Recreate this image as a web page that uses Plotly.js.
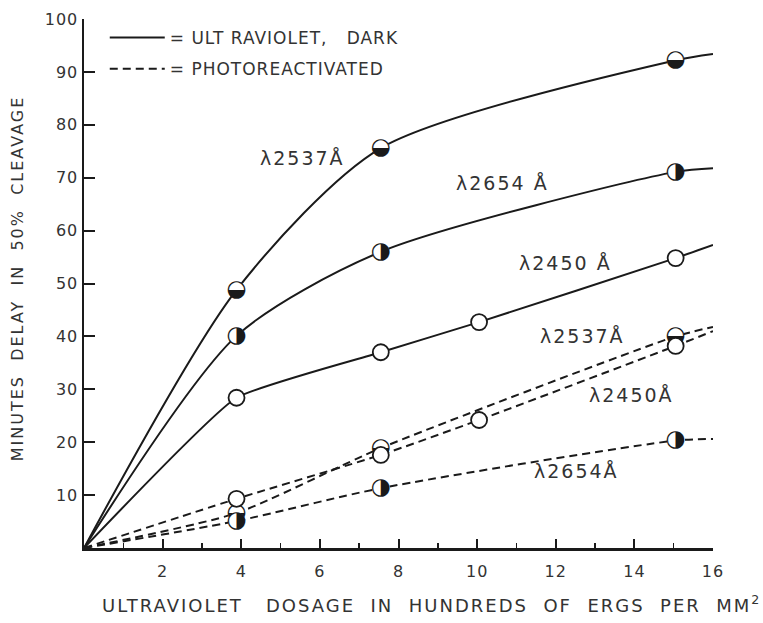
<!DOCTYPE html>
<html><head><meta charset="utf-8">
<script src="https://cdn.plot.ly/plotly-3.0.1.min.js"></script>
<style>
body{margin:0;background:#fff}
#chart{width:763px;height:623px}
.annotation-text{letter-spacing:2px}
.legendtext{letter-spacing:1px}
.ytick text,.xtick text{letter-spacing:1px}
</style></head><body><div id="chart"></div>
<script>
const FONT = 'DejaVu Sans, sans-serif';
const INK = '#1a1a1a';

// Ultraviolet, dark (solid curves): dose (hundreds of ergs/mm^2) vs delay (min)
const darkDose2537 = [0, 3.88, 7.55, 15.05, 16];
const dark2537     = [0, 48.8, 75.6, 92.2, 93.4];
const darkDose2654 = [0, 3.88, 7.55, 15.05, 16];
const dark2654     = [0, 40.1, 56.0, 71.1, 71.8];
const darkDose2450 = [0, 3.88, 7.55, 10.05, 15.05, 16];
const dark2450     = [0, 28.4, 37.0, 42.7, 54.8, 57.3];

// Photoreactivated (dashed curves)
const photoDose2537 = [0, 3.88, 7.55, 15.05, 16];
const photo2537     = [0, 6.6, 18.9, 40.0, 41.8];
const photoDose2450 = [0, 3.88, 7.55, 10.05, 15.05, 16];
const photo2450     = [0, 9.3, 17.6, 24.2, 38.2, 41.0];
const photoDose2654 = [0, 3.88, 7.55, 15.05, 16];
const photo2654     = [0, 5.1, 11.3, 20.3, 20.6];

const xTicks = [2, 4, 6, 8, 10, 12, 14, 16];
const yTicks = [10, 20, 30, 40, 50, 60, 70, 80, 90, 100];

const curveLabels = ['\u03bb2537\u00c5', '\u03bb2654 \u00c5', '\u03bb2450 \u00c5', '\u03bb2537\u00c5', '\u03bb2450\u00c5', '\u03bb2654\u00c5'];
const labelX = [5.55, 10.64, 12.24, 12.67, 13.92, 12.52];
const labelY = [73.7, 69.0, 53.9, 40.1, 28.9, 14.6];

const legendNames = ['= ULT RAVIOLET,\u00a0\u00a0 DARK', '= PHOTOREACTIVATED'];

const series = [
  {x: darkDose2537, y: dark2537, dash: 'solid', kind: 'lower', group: 'dark', legend: true, smooth: 0.75},
  {x: darkDose2654, y: dark2654, dash: 'solid', kind: 'right', group: 'dark', smooth: 0.75},
  {x: darkDose2450, y: dark2450, dash: 'solid', kind: 'open', group: 'dark', smooth: 0.4},
  {x: photoDose2537, y: photo2537, dash: '8px,5px', kind: 'lower', group: 'photo', legend: true, smooth: 0.6},
  {x: photoDose2450, y: photo2450, dash: '8px,5px', kind: 'open', group: 'photo', smooth: 0.6},
  {x: photoDose2654, y: photo2654, dash: '8px,5px', kind: 'right', group: 'photo', smooth: 0.75}
];

const traces = [];
series.forEach(s => {
  traces.push({
    x: s.x, y: s.y, type: 'scatter', mode: 'lines',
    line: {color: INK, width: 2, dash: s.dash, shape: 'spline', smoothing: s.smooth},
    name: s.group === 'dark' ? legendNames[0] : legendNames[1],
    legendgroup: s.group, showlegend: !!s.legend, hoverinfo: 'skip'
  });
});
series.forEach(s => {
  const mx = s.x.slice(1, -1), my = s.y.slice(1, -1);
  traces.push({
    x: mx, y: my, type: 'scatter', mode: 'markers', showlegend: false, cliponaxis: false,
    marker: {symbol: 'circle', size: s.kind === 'open' ? 16 : 17, color: '#fff',
             line: {color: INK, width: s.kind === 'open' ? 1.8 : 0}},
    hoverinfo: 'skip'
  });
  if (s.kind !== 'open') {
    traces.push({
      x: mx, y: my, type: 'scatter', mode: 'text', showlegend: false, cliponaxis: false,
      text: mx.map(() => s.kind === 'lower' ? '\u25d2' : '\u25d1'),
      textposition: 'middle center',
      textfont: {family: 'DejaVu Sans', size: 23, color: INK},
      hoverinfo: 'skip'
    });
  }
});

const annotations = curveLabels.map((t, i) => ({
  x: labelX[i], y: labelY[i], xref: 'x', yref: 'y', text: t, showarrow: false,
  font: {family: FONT, size: 19, color: '#333'}, xanchor: 'center', yanchor: 'middle'
}));
annotations.push({
  x: 0.552, y: -0.106, xref: 'paper', yref: 'paper', showarrow: false,
  text: 'ULTRAVIOLET\u00a0\u00a0 DOSAGE\u00a0 IN\u00a0 HUNDREDS\u00a0 OF\u00a0 ERGS\u00a0 PER\u00a0 MM<sup>2</sup>',
  font: {family: FONT, size: 18, color: '#333'}, xanchor: 'center', yanchor: 'middle'
});
annotations.push({
  x: -0.1065, y: 0.51, xref: 'paper', yref: 'paper', showarrow: false, textangle: -90,
  text: 'MINUTES\u00a0 DELAY\u00a0 IN\u00a0 50%\u00a0 CLEAVAGE',
  font: {family: FONT, size: 16, color: '#333'}, xanchor: 'center', yanchor: 'middle'
});

const layout = {
  width: 763, height: 623,
  margin: {l: 84, r: 50, t: 19, b: 75, pad: 0},
  paper_bgcolor: '#fff', plot_bgcolor: '#fff',
  font: {family: FONT, color: '#333'},
  showlegend: true,
  legend: {x: 0.033, y: 0.998, xanchor: 'left', yanchor: 'top', bgcolor: 'rgba(0,0,0,0)',
           font: {family: FONT, size: 17, color: '#333'}, itemwidth: 55,
           tracegroupgap: 6, traceorder: 'grouped'},
  xaxis: {range: [0, 16], showgrid: false, zeroline: false, showline: true,
          linecolor: INK, linewidth: 2.5, ticks: 'inside', ticklen: 9, tickwidth: 2,
          tickcolor: INK, tickvals: xTicks, ticktext: xTicks.map(String),
          ticklabelstandoff: 7,
          tickfont: {family: FONT, size: 16, color: '#333'},
          minor: {dtick: 1, ticks: 'inside', ticklen: 5, tickwidth: 1.5, tickcolor: INK, showgrid: false},
          fixedrange: true},
  yaxis: {range: [0, 100], showgrid: false, zeroline: false, showline: true,
          linecolor: INK, linewidth: 2.5, ticks: 'inside', ticklen: 11, tickwidth: 2,
          tickcolor: INK, tickvals: yTicks, ticktext: yTicks.map(String),
          tickfont: {family: FONT, size: 16, color: '#333'}, fixedrange: true},
  annotations: annotations
};

Plotly.newPlot('chart', traces, layout, {displayModeBar: false, staticPlot: true});
</script></body></html>
